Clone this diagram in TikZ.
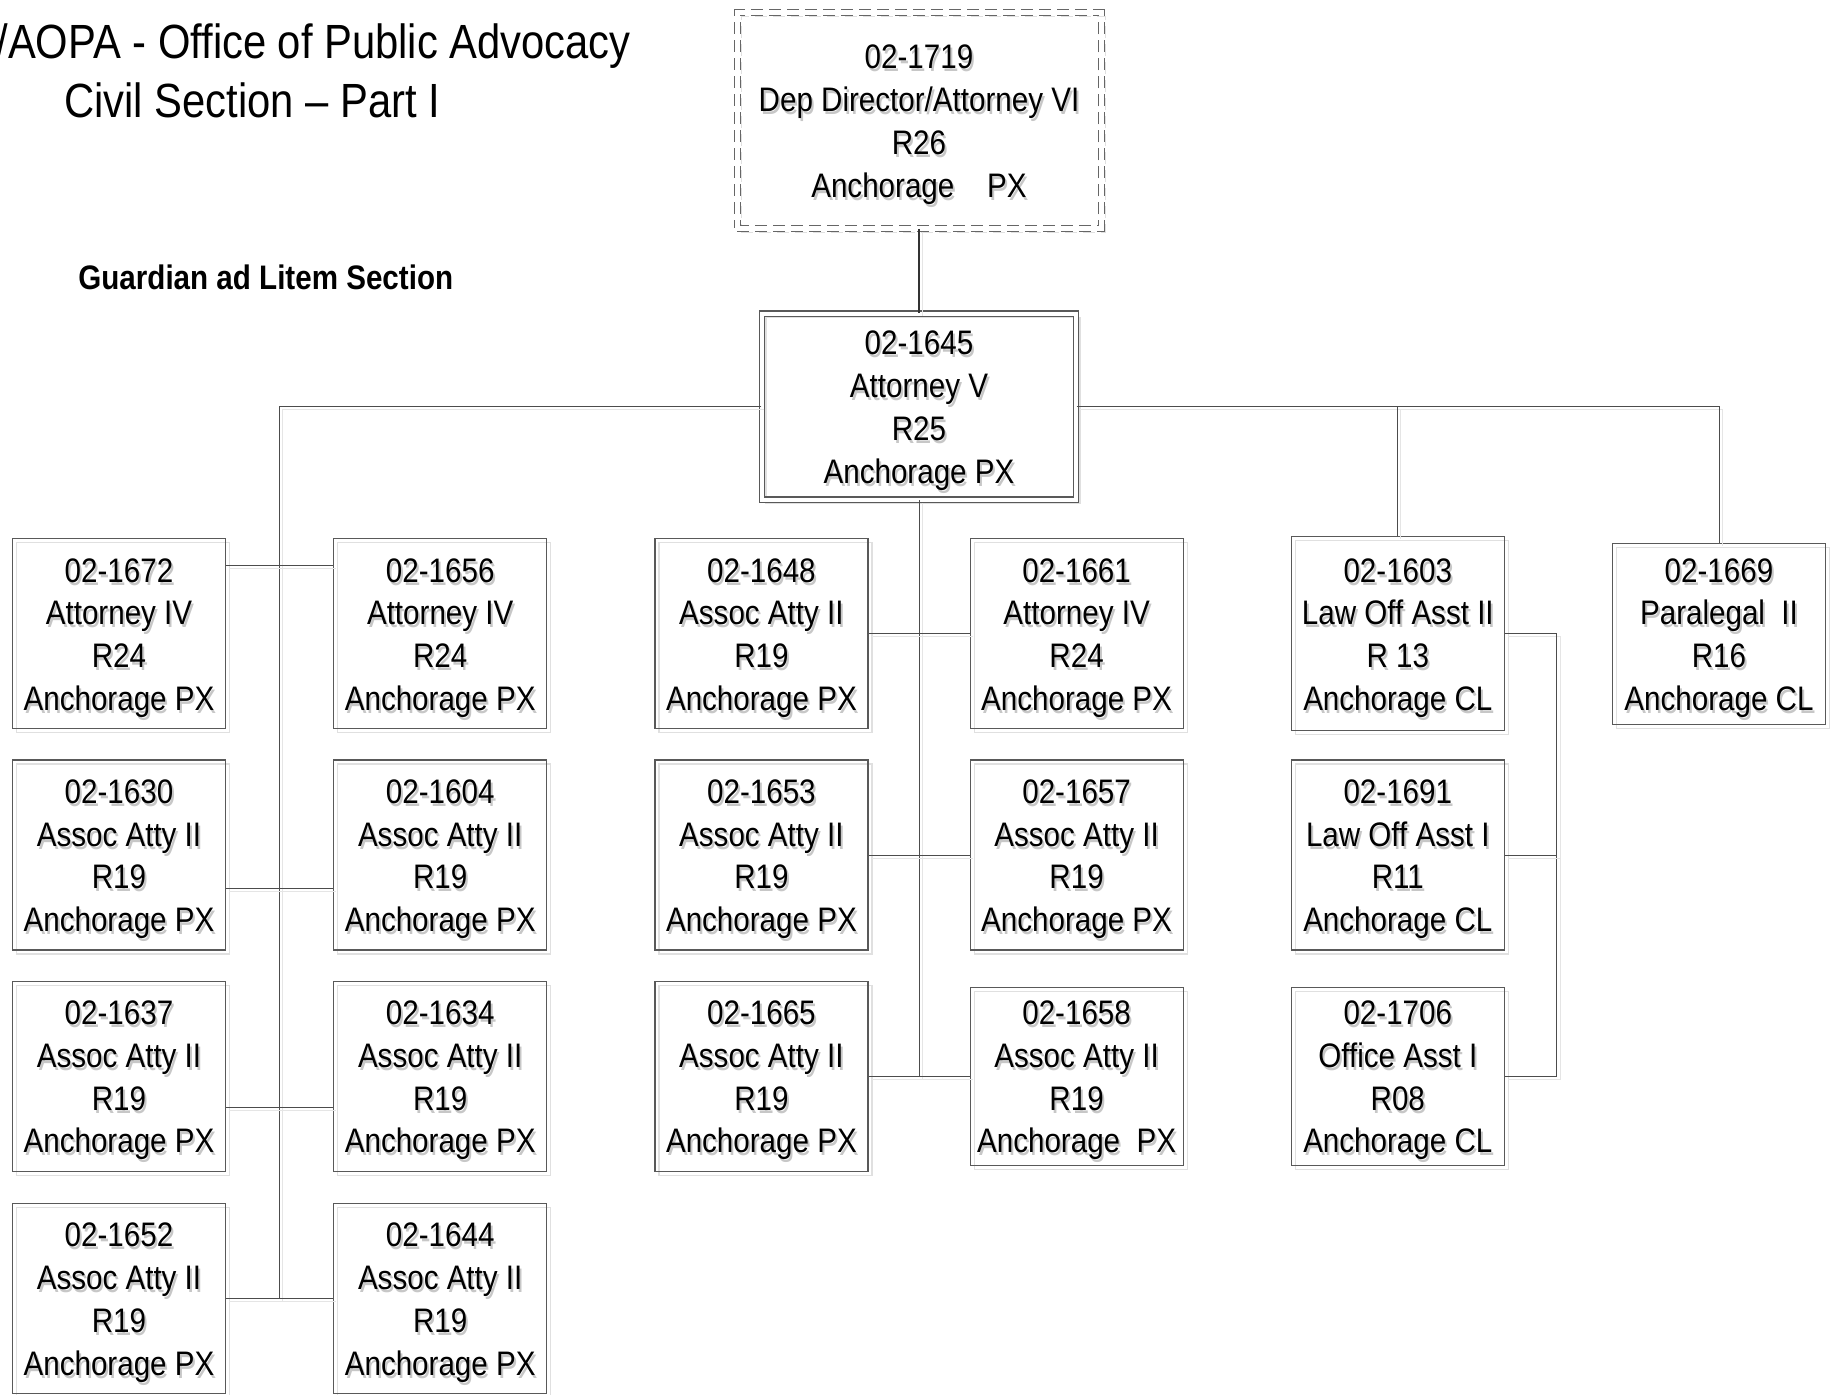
\documentclass[tikz,border=0pt]{standalone}
\usepackage{fontspec}
\setmainfont{Liberation Sans}[FakeStretch=0.87]
\usetikzlibrary{
  positioning,
  calc,
  shadows,
}
\newcommand{\shd}[1]{\makebox[0pt][l]{\hspace{1pt}\raisebox{-1.5pt}{\color{black!22}#1}}#1}
\newcommand{\pcn}[4]{\rule{0pt}{17.5pt}\shd{#1}\\\shd{#2}\\\shd{#3}\\\shd{#4}}

\tikzset{
  lightshadow/.style={drop shadow={fill=none, draw=black!12, opacity=1,
      shadow xshift=2pt, shadow yshift=-2pt}},
  pcnbox/.style={draw=black!65, line width=0.6pt, lightshadow,
    minimum width=106.5pt, minimum height=95pt, inner sep=0pt,
    align=center, font=\fontsize{17}{21.4}\selectfont},
  headbox/.style={pcnbox, double=white, double distance=2pt,
    minimum width=157pt, minimum height=93pt},
  deputybox/.style={pcnbox, draw=black!60, line width=0.5pt,
    dash pattern=on 6pt off 3pt, double=white, double distance=2.5pt,
    minimum width=182pt, minimum height=108pt},
  conn/.style={draw=black!70, line width=0.5pt, drop shadow={fill=none,
      draw=black!10, opacity=1, shadow xshift=1.5pt, shadow yshift=-1.5pt}},
}

\begin{document}
\begin{tikzpicture}
    \useasboundingbox (0,0) rectangle (918pt,-697.5pt);
    % titles
    \node [anchor=base west, inner sep=0pt, font=\fontsize{24}{28}\selectfont] (T1) at (-2pt,-29.5pt) {/AOPA - Office of Public Advocacy};
    \node [anchor=base west, inner sep=0pt, font=\fontsize{24}{28}\selectfont] (T2) at (32pt,-59pt) {Civil Section – Part I};
    \node [anchor=base west, inner sep=0pt, font=\fontsize{17}{20}\selectfont\bfseries] (GAL) at (39pt,-145pt) {Guardian ad Litem Section};
    % boxes
    \node [deputybox] (DD) at (459.5pt,-60.25pt) {\pcn{02-1719}{Dep Director/Attorney VI}{R26}{Anchorage~~~~PX}};
    \node [headbox, below=42pt of DD] (AV) {\pcn{02-1645}{Attorney V}{R25}{Anchorage PX}};
    \node [pcnbox, below=19pt of AV.south west] (C1) {\pcn{02-1648}{Assoc Atty II}{R19}{Anchorage PX}};
    \node [pcnbox, below=19pt of AV.south east] (D1) {\pcn{02-1661}{Attorney IV}{R24}{Anchorage PX}};
    \node [pcnbox, left=53.5pt of C1] (B1) {\pcn{02-1656}{Attorney IV}{R24}{Anchorage PX}};
    \node [pcnbox, left=53.5pt of B1] (A1) {\pcn{02-1672}{Attorney IV}{R24}{Anchorage PX}};
    \node [pcnbox, right=53.5pt of D1, minimum height=97pt] (E1) {\pcn{02-1603}{Law Off Asst II}{R 13}{Anchorage CL}};
    \node [pcnbox, right=53.5pt of E1, minimum height=90.5pt] (F1) {\pcn{02-1669}{Paralegal~~II}{R16}{Anchorage CL}};
    \node [pcnbox, below=15pt of A1] (A2) {\pcn{02-1630}{Assoc Atty II}{R19}{Anchorage PX}};
    \node [pcnbox, below=15pt of A2] (A3) {\pcn{02-1637}{Assoc Atty II}{R19}{Anchorage PX}};
    \node [pcnbox, below=15.5pt of A3] (A4) {\pcn{02-1652}{Assoc Atty II}{R19}{Anchorage PX}};
    \node [pcnbox, below=15pt of B1] (B2) {\pcn{02-1604}{Assoc Atty II}{R19}{Anchorage PX}};
    \node [pcnbox, below=15pt of B2] (B3) {\pcn{02-1634}{Assoc Atty II}{R19}{Anchorage PX}};
    \node [pcnbox, below=15.5pt of B3] (B4) {\pcn{02-1644}{Assoc Atty II}{R19}{Anchorage PX}};
    \node [pcnbox, below=15pt of C1] (C2) {\pcn{02-1653}{Assoc Atty II}{R19}{Anchorage PX}};
    \node [pcnbox, below=15pt of C2] (C3) {\pcn{02-1665}{Assoc Atty II}{R19}{Anchorage PX}};
    \node [pcnbox, below=15pt of D1] (D2) {\pcn{02-1657}{Assoc Atty II}{R19}{Anchorage PX}};
    \node [pcnbox, below=18pt of D2, minimum height=89pt] (D3) {\pcn{02-1658}{Assoc Atty II}{R19}{Anchorage~~PX}};
    \node [pcnbox, below=14pt of E1] (E2) {\pcn{02-1691}{Law Off Asst I}{R11}{Anchorage CL}};
    \node [pcnbox, below=18pt of E2, minimum height=89pt] (E3) {\pcn{02-1706}{Office Asst I}{R08}{Anchorage CL}};
    % connectors
    \draw [conn, line width=1pt, draw=black!80] (DD) to (AV);
    \draw [conn] (AV.west) -| ($(A4.east)!0.5!(B4.west)$);
    \draw [conn] (AV.east) -| (F1.north);
    \draw [conn] (E1.north) to (E1.north |- AV.east);
    \draw [conn] (AV.south) to (AV.south |- C3.east);
    \draw [conn] ([yshift=34pt]A1.east) to ([yshift=34pt]B1.west);
    \draw [conn] ([yshift=-16.75pt]A2.east) to ([yshift=-16.75pt]B2.west);
    \draw [conn] ([yshift=-15.5pt]A3.east) to ([yshift=-15.5pt]B3.west);
    \draw [conn] (A4.east) to (B4.west);
    \draw [conn] (C1.east) to (D1.west);
    \draw [conn] (C2.east) to (D2.west);
    \draw [conn] (C3.east) to (D3.west);
    \coordinate (BR) at ([xshift=26pt]E1.east);
    \draw [conn] (E1.east) -- (BR) |- (E3.east);
    \draw [conn] (E2.east) to (E2.east -| BR);
  \end{tikzpicture}
\end{document}
